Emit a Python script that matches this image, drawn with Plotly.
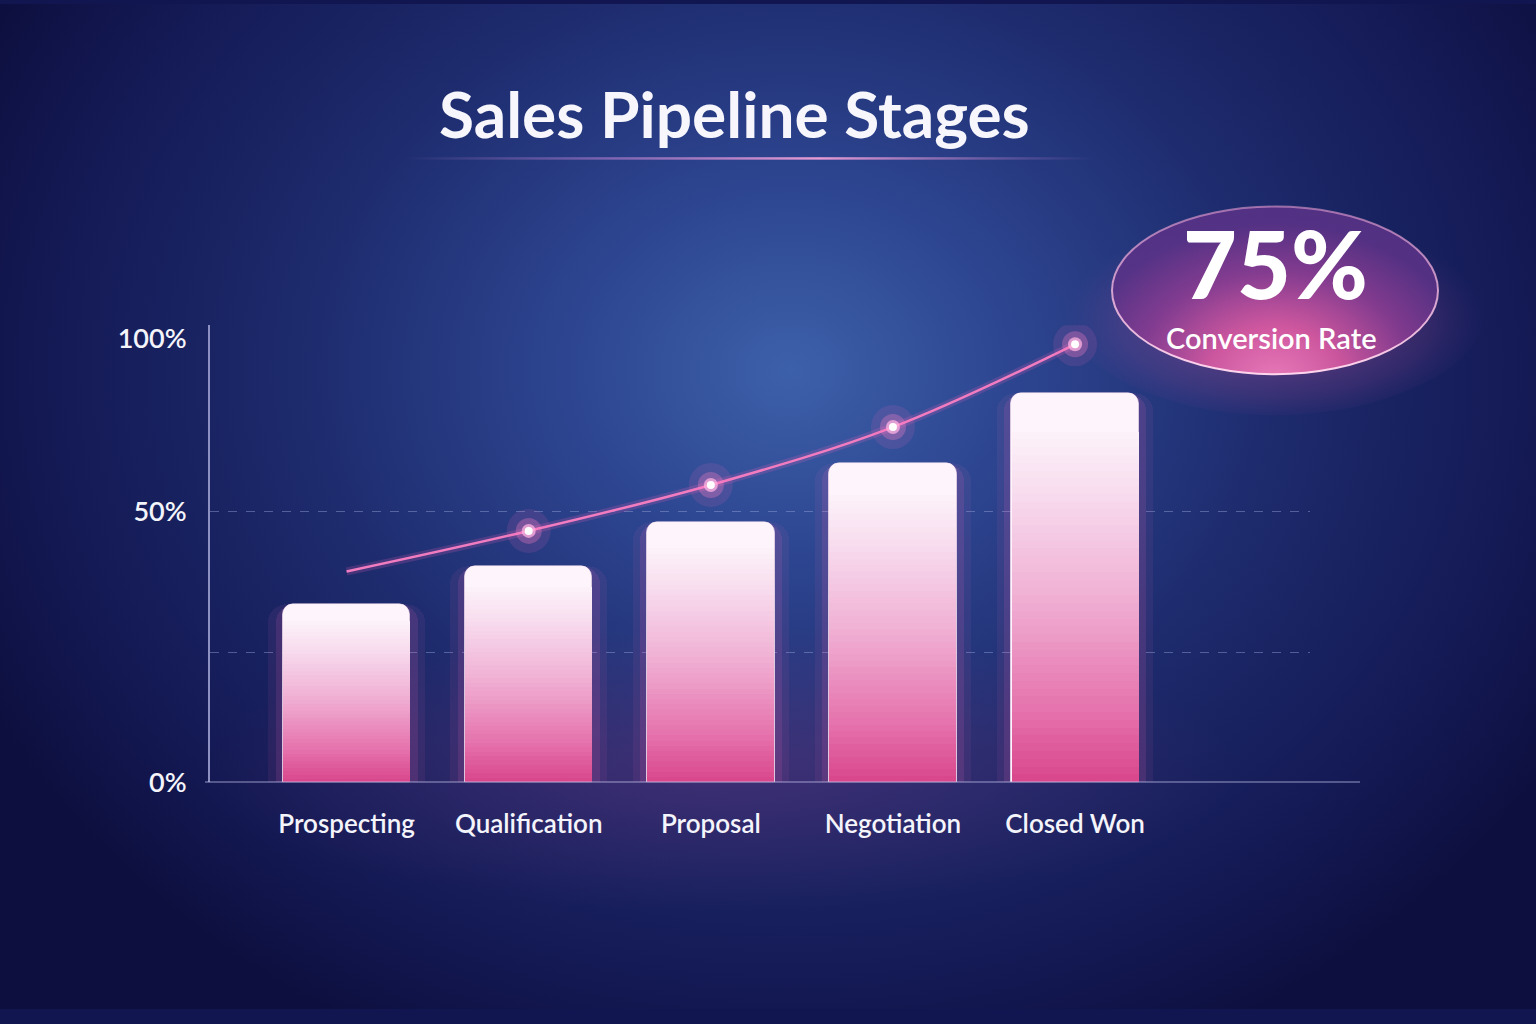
import base64
import plotly.graph_objects as go

# ---------------- data ----------------
STAGES = ["Prospecting", "Qualification", "Proposal", "Negotiation", "Closed Won"]
STAGE_VALUES = [33, 40, 48, 59, 72]          # bar heights (%)
TREND_VALUES = [39, 46.5, 55, 65.7, 81]      # conversion trend line (%)
Y_TICK_VALS = [0, 50, 82]
Y_TICK_TEXT = ["0%", "50%", "100%"]
GRID_VALS = [24, 50]
TITLE = "Sales Pipeline Stages"
BADGE_VALUE = "75%"
BADGE_LABEL = "Conversion Rate"

W, H = 1536, 1024
x_idx = list(range(len(STAGES)))

# vertical mapping from target picture pixels to figure pixels
S, OFF = 1007 / 1024, 3.0
def py(y):
    return (y - OFF) / S

# ---------------- background (SVG decoration) ----------------
svg = f'''<svg xmlns="http://www.w3.org/2000/svg" width="{W}" height="{H}" viewBox="0 0 {W} {H}" preserveAspectRatio="none">
<defs>
<radialGradient id="bg" cx="790" cy="{py(370):.1f}" r="900" gradientUnits="userSpaceOnUse" gradientTransform="translate(790 {py(370):.1f}) scale(1 0.85) translate(-790 -{py(370):.1f})">
<stop offset="0" stop-color="#3d60aa"/>
<stop offset="0.25" stop-color="#2d4590"/>
<stop offset="0.55" stop-color="#1d2a6c"/>
<stop offset="0.85" stop-color="#131852"/>
<stop offset="1" stop-color="#0d0f3e"/>
</radialGradient>
<radialGradient id="pinkbase" cx="720" cy="{py(770):.1f}" r="520" gradientUnits="userSpaceOnUse" gradientTransform="translate(720 {py(770):.1f}) scale(1 0.28) translate(-720 -{py(770):.1f})">
<stop offset="0" stop-color="#b8408f" stop-opacity="0.22"/>
<stop offset="1" stop-color="#b8408f" stop-opacity="0"/>
</radialGradient>
<radialGradient id="badgeglow" cx="1275" cy="{py(320):.1f}" r="210" gradientUnits="userSpaceOnUse" gradientTransform="translate(1275 {py(320):.1f}) scale(1 0.5) translate(-1275 -{py(320):.1f})">
<stop offset="0" stop-color="#ff6fb5" stop-opacity="0.45"/>
<stop offset="0.75" stop-color="#c0509f" stop-opacity="0.15"/>
<stop offset="1" stop-color="#9040a0" stop-opacity="0"/>
</radialGradient>
<radialGradient id="badge" cx="1275" cy="{py(380):.1f}" r="200" fx="1275" fy="{py(385):.1f}" gradientUnits="userSpaceOnUse" gradientTransform="translate(1275 {py(380):.1f}) scale(1 0.8) translate(-1275 -{py(380):.1f})">
<stop offset="0" stop-color="#ff86c4"/>
<stop offset="0.35" stop-color="#dc5aa2"/>
<stop offset="0.7" stop-color="#8a3c92"/>
<stop offset="1" stop-color="#5a3287"/>
</radialGradient>
<linearGradient id="badgestroke" x1="0" y1="0" x2="0" y2="1">
<stop offset="0" stop-color="#f5a6d8" stop-opacity="0.55"/>
<stop offset="1" stop-color="#ffd6ee" stop-opacity="1"/>
</linearGradient>
<linearGradient id="uline" x1="0" y1="0" x2="1" y2="0">
<stop offset="0" stop-color="#c080d0" stop-opacity="0"/>
<stop offset="0.3" stop-color="#b880d0" stop-opacity="0.6"/>
<stop offset="0.6" stop-color="#f0a0d8" stop-opacity="0.95"/>
<stop offset="1" stop-color="#c080d0" stop-opacity="0"/>
</linearGradient>
</defs>
<rect x="0" y="0" width="{W}" height="{H}" fill="url(#bg)"/>
<rect x="0" y="0" width="{W}" height="{H}" fill="url(#pinkbase)"/>
<ellipse cx="1275" cy="{py(300):.1f}" rx="215" ry="{115 / S:.1f}" fill="url(#badgeglow)"/>
<ellipse cx="1275" cy="{py(290):.1f}" rx="163" ry="{84 / S:.1f}" fill="url(#badge)" fill-opacity="0.88" stroke="url(#badgestroke)" stroke-width="2"/>
<rect x="405" y="{py(156.5):.1f}" width="690" height="2.5" fill="url(#uline)"/>
</svg>'''
bg_uri = "data:image/svg+xml;base64," + base64.b64encode(svg.encode()).decode()

# ---------------- helpers ----------------
def hex2rgb(h):
    h = h.lstrip("#")
    return tuple(int(h[i:i + 2], 16) for i in (0, 2, 4))

GRAD = [(0.0, "#d8448a"), (0.2, "#e674ae"), (0.47, "#f0add3"), (0.75, "#f8dcee"),
        (0.9, "#fcf1f9"), (1.0, "#fdf5fb")]

def grad_color(f):
    for (a, ca), (b, cb) in zip(GRAD[:-1], GRAD[1:]):
        if a <= f <= b:
            t = (f - a) / (b - a)
            r1, g1, b1 = hex2rgb(ca)
            r2, g2, b2 = hex2rgb(cb)
            return "rgb(%d,%d,%d)" % (r1 + (r2 - r1) * t, g1 + (g2 - g1) * t, b1 + (b2 - b1) * t)
    return GRAD[-1][1]

fig = go.Figure()

# bar glow
for wdt, op in [(0.86, 0.07), (0.78, 0.12)]:
    fig.add_trace(go.Bar(x=x_idx, y=STAGE_VALUES, width=wdt,
                         marker=dict(color=f"rgba(255,110,190,{op})", cornerradius=18, line=dict(width=0)),
                         hoverinfo="skip", showlegend=False))

# full bar (top colour, rounded)
fig.add_trace(go.Bar(x=x_idx, y=STAGE_VALUES, width=0.70,
                     marker=dict(color=grad_color(1.0), cornerradius=11,
                                 line=dict(width=1, color="rgba(255,230,245,0.6)")),
                     hoverinfo="skip", showlegend=False))

# gradient layers
N = 45
for k in range(N):
    f = 0.9 * (1 - k / N)
    fig.add_trace(go.Bar(x=x_idx, y=[v * f for v in STAGE_VALUES], width=0.70 - 0.003,
                         marker=dict(color=grad_color(f), line=dict(width=0)),
                         hoverinfo="skip", showlegend=False))

# trend line glow + line
fig.add_trace(go.Scatter(x=x_idx, y=TREND_VALUES, mode="lines",
                         line=dict(color="rgba(255,100,190,0.18)", width=8, shape="spline"),
                         hoverinfo="skip", showlegend=False))
fig.add_trace(go.Scatter(x=x_idx, y=TREND_VALUES, mode="lines",
                         line=dict(color="#f27cc0", width=2.5, shape="spline"),
                         hoverinfo="skip", showlegend=False))

# glowing points
for size, col in [(44, "rgba(255,110,190,0.12)"), (26, "rgba(255,130,200,0.3)"),
                  (14, "rgba(255,180,225,0.75)"), (8, "#ffffff")]:
    fig.add_trace(go.Scatter(x=x_idx[1:], y=TREND_VALUES[1:], mode="markers",
                             marker=dict(size=size, color=col, line=dict(width=0)),
                             hoverinfo="skip", showlegend=False))

x0, x1 = 210 / W, 1310 / W
y0, y1 = 1 - py(783) / H, 1 - py(325) / H
yrange_top = (783 - 325) / 271 * 50

fig.update_layout(
    width=W, height=H,
    autosize=False,
    margin=dict(l=0, r=0, t=0, b=0),
    paper_bgcolor="#121650",
    plot_bgcolor="rgba(0,0,0,0)",
    barmode="overlay",
    bargap=0,
    font=dict(family="Lato, 'Noto Sans', sans-serif", color="#f2f2fa"),
    images=[dict(source=bg_uri, xref="paper", yref="paper", x=0, y=1, sizex=1, sizey=1,
                 xanchor="left", yanchor="top", sizing="stretch", layer="below")],
    xaxis=dict(domain=[x0, x1], range=[-0.75, 5.29], tickvals=x_idx, ticktext=STAGES,
               showgrid=False, zeroline=False, showline=False,
               ticks="outside", ticklen=18, tickcolor="rgba(0,0,0,0)",
               tickfont=dict(size=26, color="#f4f4fb", family="Lato, sans-serif", weight=600)),
    yaxis=dict(domain=[y0, y1], range=[0, yrange_top], tickvals=Y_TICK_VALS, ticktext=Y_TICK_TEXT,
               showgrid=False, zeroline=False, showline=True, linecolor="#8c91c2", linewidth=2,
               ticks="outside", ticklen=16, tickcolor="rgba(0,0,0,0)",
               tickfont=dict(size=27, color="#f4f4fb", family="Lato, sans-serif", weight=600),
               minor=dict(tickmode="array", tickvals=GRID_VALS, showgrid=True, ticks="",
                          gridcolor="rgba(150,165,215,0.45)", griddash="dash", gridwidth=1)),
    shapes=[dict(type="line", xref="paper", yref="y", x0=205 / W, x1=1360 / W, y0=0, y1=0,
                 line=dict(color="rgba(195,195,235,0.75)", width=2), layer="above")],
    annotations=[
        dict(text=TITLE, xref="paper", yref="paper", x=734 / W, y=1 - py(113) / H,
             xanchor="center", yanchor="middle", showarrow=False,
             font=dict(size=64, color="#f6f6fc", family="Lato, sans-serif", weight=700)),
        dict(text=BADGE_VALUE, xref="paper", yref="paper", x=1275 / W, y=1 - py(263) / H,
             xanchor="center", yanchor="middle", showarrow=False,
             font=dict(size=93, color="#ffffff", family="Lato, sans-serif", weight=900)),
        dict(text=BADGE_LABEL, xref="paper", yref="paper", x=1271 / W, y=1 - py(337) / H,
             xanchor="center", yanchor="middle", showarrow=False,
             font=dict(size=29, color="#ffffff", family="Lato, sans-serif", weight=600)),
    ],
)

post = ("document.documentElement.style.margin='0';"
        "document.body.style.margin='0';"
        "document.body.style.overflow='hidden';"
        "document.body.style.background='#121650';")

fig.write_html("out.html", config={"displayModeBar": False}, post_script=post)
